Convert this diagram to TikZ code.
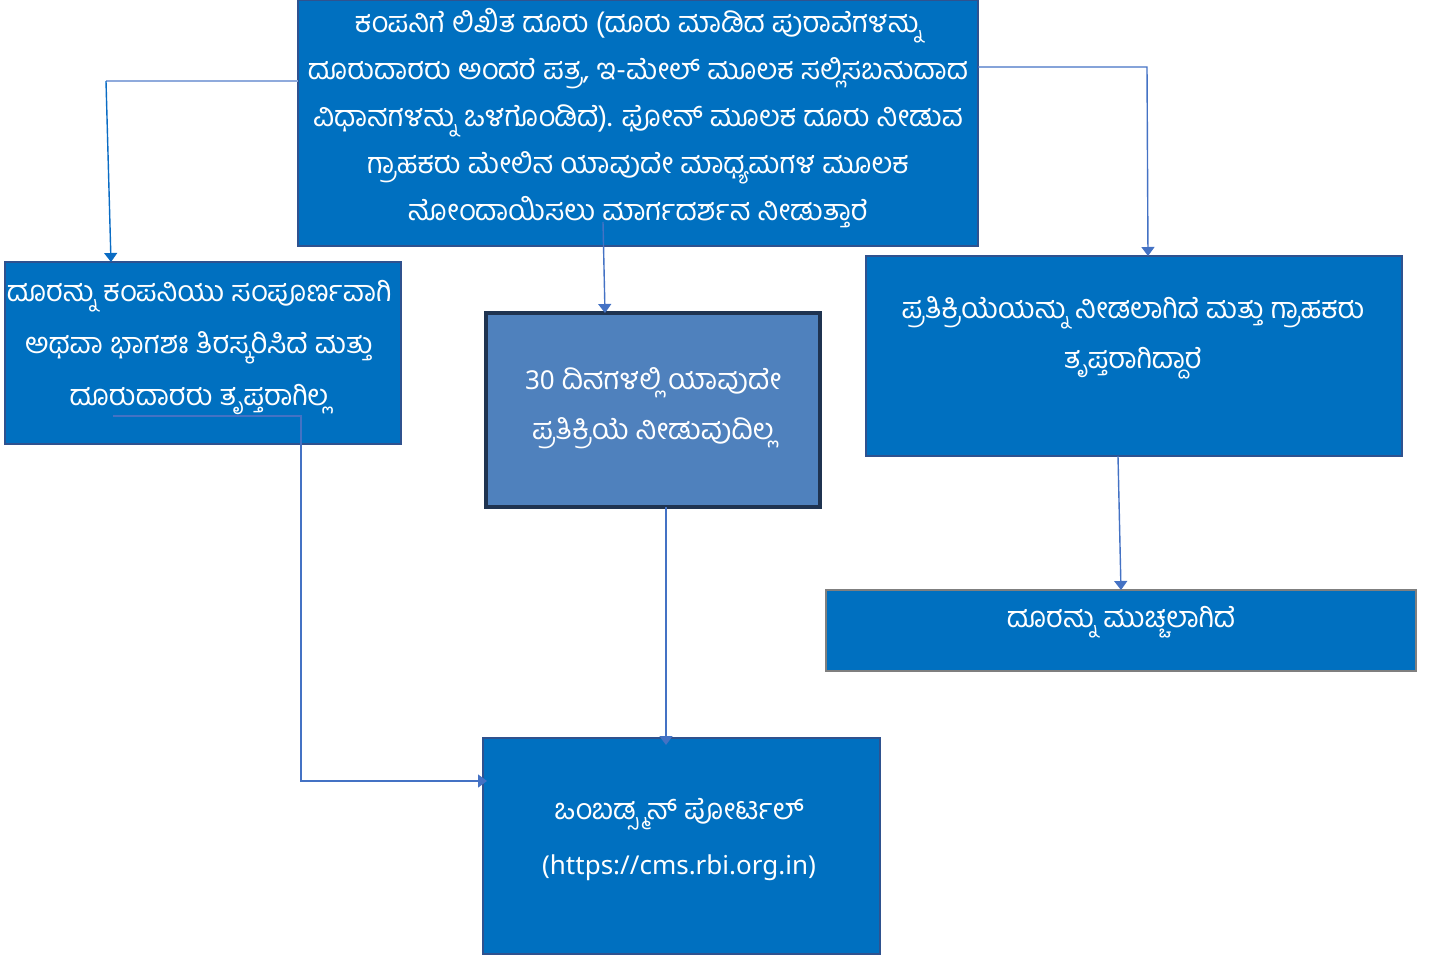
\documentclass[tikz,border=0pt]{standalone}
\usepackage{fontspec}
\newfontfamily\kn[Script=Kannada]{Hind Mysuru}
\newfontfamily\lat{Noto Sans}
\usetikzlibrary{arrows.meta}
\definecolor{boxblue}{HTML}{0070C0}
\definecolor{boxedge}{HTML}{2F528F}
\definecolor{midfill}{HTML}{4F81BD}
\definecolor{midedge}{HTML}{1F3350}
\definecolor{grayedge}{HTML}{7F7F7F}
\definecolor{conn}{HTML}{4472C4}
\definecolor{connlight}{HTML}{8FAADC}
\definecolor{conndark}{HTML}{0A6CC4}
\begin{document}
\begin{tikzpicture}[x=1pt,y=-1pt,
  box/.style={draw=boxedge, fill=boxblue, line width=1.3pt, inner sep=0pt, outer sep=0pt, anchor=north west},
  txt/.style={text=white, align=center, inner sep=0pt},
  conline/.style={draw=conn, line width=1.4pt},
  tip/.style={-{Triangle[width=13pt,length=9pt]}}
]
\useasboundingbox (0,0) rectangle (1436,958);
% boxes
\node[box, minimum width=680pt, minimum height=246pt] (top) at (298,0) {};
\node[box, minimum width=396pt, minimum height=182pt] (left) at (5,262) {};
\node[box, fill=midfill, draw=midedge, line width=4pt, minimum width=334pt, minimum height=194pt] (mid) at (486,313) {};
\node[box, minimum width=536pt, minimum height=200pt] (right) at (866,256) {};
\node[box, draw=grayedge, line width=1.8pt, minimum width=590pt, minimum height=81pt] (close) at (826,590) {};
\node[box, minimum width=397pt, minimum height=216pt] (bot) at (483,738) {};
% texts
\node[txt, font=\kn\fontsize{29}{47}\selectfont] (toptxt) at (638,118) {ಕಂಪನಿಗೆ ಲಿಖಿತ ದೂರು (ದೂರು ಮಾಡಿದ ಪುರಾವೆಗಳನ್ನು\\ದೂರುದಾರರು ಅಂದರೆ ಪತ್ರ, ಇ-ಮೇಲ್ ಮೂಲಕ ಸಲ್ಲಿಸಬಹುದಾದ\\ವಿಧಾನಗಳನ್ನು ಒಳಗೊಂಡಿದೆ). ಫೋನ್ ಮೂಲಕ ದೂರು ನೀಡುವ\\ಗ್ರಾಹಕರು ಮೇಲಿನ ಯಾವುದೇ ಮಾಧ್ಯಮಗಳ ಮೂಲಕ\\ನೋಂದಾಯಿಸಲು ಮಾರ್ಗದರ್ಶನ ನೀಡುತ್ತಾರೆ};
\node[txt, font=\kn\fontsize{29}{52}\selectfont] (lefttxt) at (199,347) {ದೂರನ್ನು ಕಂಪನಿಯು ಸಂಪೂರ್ಣವಾಗಿ\\ಅಥವಾ ಭಾಗಶಃ ತಿರಸ್ಕರಿಸಿದೆ ಮತ್ತು\\ದೂರುದಾರರು ತೃಪ್ತರಾಗಿಲ್ಲ};
\node[txt, font=\kn\fontsize{29}{50}\selectfont] (midtxt) at (653,408) {{\lat\fontsize{26}{50}\selectfont 30} ದಿನಗಳಲ್ಲಿ ಯಾವುದೇ\\ಪ್ರತಿಕ್ರಿಯೆ ನೀಡುವುದಿಲ್ಲ};
\node[txt, font=\kn\fontsize{29}{50}\selectfont] (righttxt) at (1133,338) {ಪ್ರತಿಕ್ರಿಯೆಯನ್ನು ನೀಡಲಾಗಿದೆ ಮತ್ತು ಗ್ರಾಹಕರು\\ತೃಪ್ತರಾಗಿದ್ದಾರೆ};
\node[txt, font=\kn\fontsize{29}{50}\selectfont] (closetxt) at (1121,622) {ದೂರನ್ನು ಮುಚ್ಚಲಾಗಿದೆ};
\node[txt, font=\kn\fontsize{29}{55}\selectfont] (bottxt) at (679,840) {ಒಂಬಡ್ಸ್ಮನ್ ಪೋರ್ಟಲ್\\{\lat\fontsize{26}{55}\selectfont (https://cms.rbi.org.in)}};
% connector points
\coordinate (a1) at (106,81);
\coordinate (a1e) at (111,0);
\coordinate (s2) at (603,222);
\coordinate (e2) at (605,0);
\coordinate (a3) at (1147,67);
\coordinate (e3) at (1148,0);
\coordinate (s4) at (1118,0);
\coordinate (e4) at (1121,0);
\coordinate (s5) at (666,0);
\coordinate (e5) at (666,745);
\coordinate (s6) at (113,416);
\coordinate (a6) at (301,416);
\coordinate (b6) at (301,781);
\coordinate (e6) at (487,781);
% connectors
\draw[draw=connlight, line width=1.4pt] (top.west |- a1) -- (a1);
\draw[draw=conndark, line width=1.4pt, tip] (a1) -- (left.north -| a1e);
\draw[conline, tip] (s2) -- (mid.north -| e2);
\draw[conline, tip] (top.east |- a3) -- (a3) -- (right.north -| e3);
\draw[conline, tip] (right.south -| s4) -- (close.north -| e4);
\draw[conline, tip] (mid.south -| s5) -- (e5);
\draw[conline, tip] (s6) -- (a6) -- (b6) -- (e6);
\end{tikzpicture}
\end{document}
